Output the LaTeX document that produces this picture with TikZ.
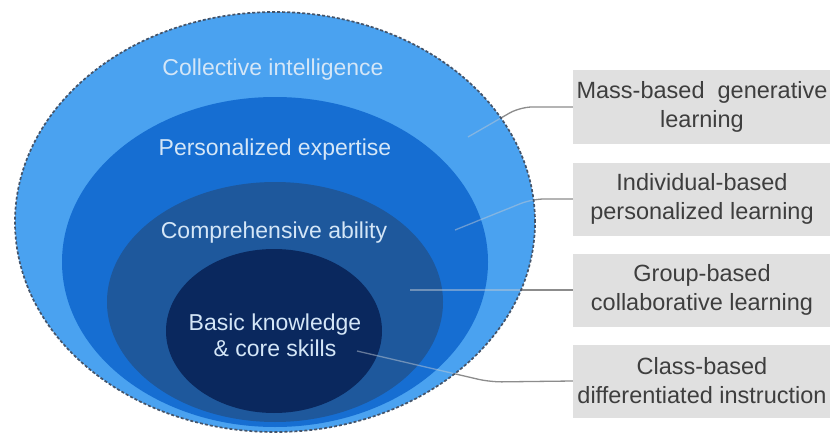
\documentclass[tikz,border=0pt]{standalone}
\usepackage{fontspec}
\setmainfont{Liberation Sans}
\usetikzlibrary{shapes.geometric}
\definecolor{ringA}{RGB}{74,162,240}
\definecolor{ringB}{RGB}{22,110,210}
\definecolor{ringC}{RGB}{30,88,156}
\definecolor{ringD}{RGB}{10,40,94}
\definecolor{rimc}{RGB}{68,84,106}
\definecolor{labelc}{RGB}{212,230,247}
\definecolor{boxgray}{RGB}{224,224,224}
\definecolor{boxtext}{RGB}{62,62,62}
\definecolor{linkgray}{RGB}{140,140,140}
\definecolor{linkin}{RGB}{190,200,212}
\begin{document}
\begin{tikzpicture}[x=1pt,y=-1pt,
  ring/.style={ellipse, draw=none, inner sep=0pt, outer sep=0pt},
  ringlabel/.style={text=labelc, font=\fontsize{23}{26}\selectfont, align=center, inner sep=0pt},
  sidebox/.style={fill=boxgray, draw=none, minimum width=258pt, minimum height=73pt,
                  text=boxtext, font=\fontsize{23.5}{29}\selectfont, align=center, inner sep=0pt},
  linkout/.style={draw=linkgray, line width=1.3pt, rounded corners=12pt},
  linkinner/.style={draw=linkin, opacity=0.5, line width=1.3pt, rounded corners=12pt}]
\useasboundingbox (0,0) rectangle (830,436);
\fill[white] (0,0) rectangle (830,436);

% rings
\node[ring, fill=ringA, minimum width=520pt, minimum height=420pt] (r1) at (275,222) {};
\node[ring, fill=ringB, minimum width=426pt, minimum height=330pt] (r2) at (275,262) {};
\node[ring, fill=ringC, minimum width=336pt, minimum height=240pt] (r3) at (275,302) {};
\node[ring, fill=ringD, minimum width=216pt, minimum height=164pt] (r4) at (274,331) {};

% ring labels
\node[ringlabel, anchor=base] (t1) at (273,75) {Collective intelligence};
\node[ringlabel, anchor=base] (t2) at (275,155) {Personalized expertise};
\node[ringlabel, anchor=base] (t3) at (274,238) {Comprehensive ability};
\node[ringlabel] (t4) at (275,335) {Basic knowledge\\\& core skills};

% side boxes
\node[sidebox] (b1) at (702,107) {Mass-based\ \ generative\\learning};
\node[sidebox] (b2) at (702,199) {Individual-based\\personalized learning};
\node[sidebox] (b3) at (702,290) {Group-based\\collaborative learning};
\node[sidebox] (b4) at (702,381) {Class-based\\differentiated instruction};

% connector points
\coordinate (k1) at (520,107);
\coordinate (e1) at (468,137);
\coordinate (k2) at (532,199);
\coordinate (e2) at (455,230);
\coordinate (e3) at (410,290);
\coordinate (k4) at (490,382);
\coordinate (e4) at (357,351);

% connector parts inside the outer ring
\begin{scope}
  \clip (275,222) ellipse [x radius=260pt, y radius=210pt];
  \draw[linkinner] (b1.west) -- (k1) -- (e1);
  \draw[linkinner] (b2.west) -- (k2) -- (e2);
  \draw[linkinner] (b3.west) -- (e3);
  \draw[linkinner] (b4.west) -- (k4) -- (e4);
\end{scope}
% connector parts outside the outer ring
\begin{scope}[even odd rule]
  \clip (0,0) rectangle (830,436) (275,222) ellipse [x radius=260pt, y radius=210pt];
  \draw[linkout] (b1.west) -- (k1) -- (e1);
  \draw[linkout] (b2.west) -- (k2) -- (e2);
  \draw[linkout] (b3.west) -- (e3);
  \draw[linkout] (b4.west) -- (k4) -- (e4);
\end{scope}

% dashed rim
\draw[rimc, line width=1.7pt, dash pattern=on 3pt off 2pt] (275,222) ellipse [x radius=260pt, y radius=210pt];
\end{tikzpicture}
\end{document}
